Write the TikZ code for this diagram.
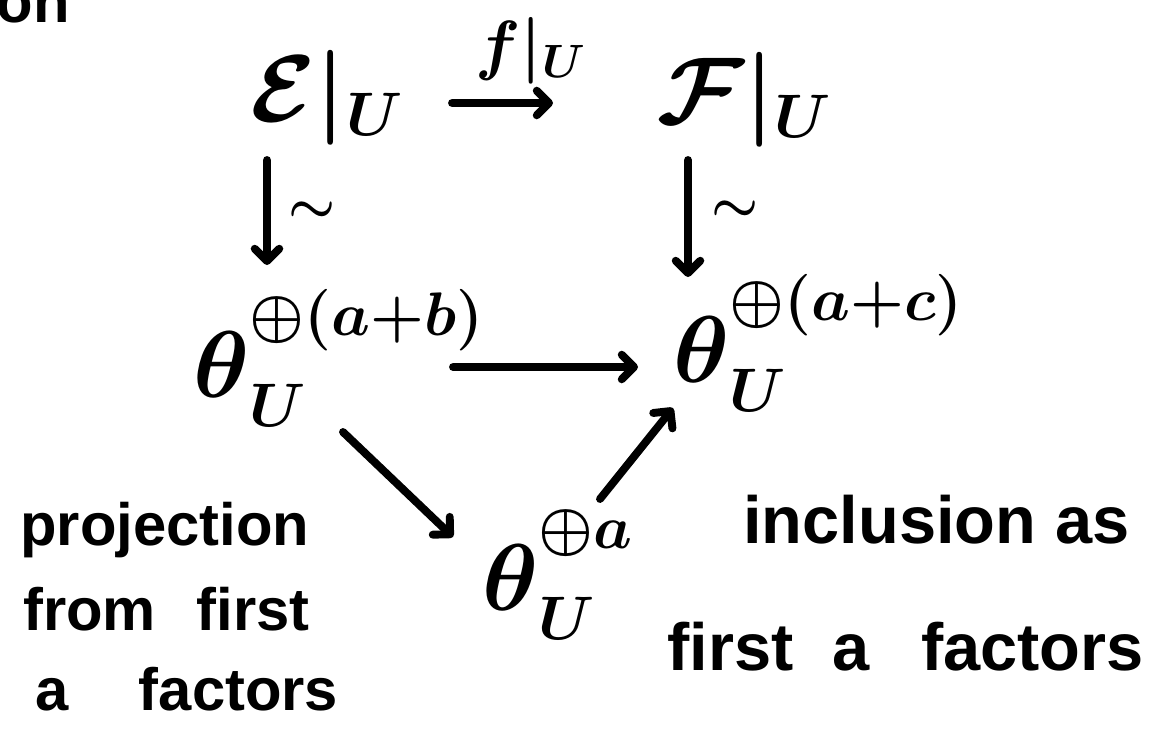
\RequirePackage{fix-cm}
\documentclass[tikz,border=0pt]{standalone}
\usepackage{amsmath}
\usepackage{fontspec}
\usepackage{tikz}
\usetikzlibrary{arrows.meta, positioning}
\newfontfamily\hand{Liberation Sans}
\DeclareMathSizes{54}{54}{35}{27}
\newcommand{\sheafO}{{\theta\rule{0pt}{0.9em}}}
\tikzset{
  obj/.style={inner sep=0pt, anchor=base west, font=\fontsize{54}{60}\selectfont\boldmath},
  lab/.style={inner sep=0pt, font=\fontsize{38}{44}\selectfont\boldmath},
  iso/.style={inner sep=0pt, font=\fontsize{30}{34}\selectfont\boldmath},
  words/.style={inner sep=0pt, anchor=base west, font=\hand\bfseries\fontsize{34}{40}\selectfont},
  bigwords/.style={words, font=\hand\bfseries\fontsize{38}{44}\selectfont},
  arrow/.style={-{Straight Barb[length=7pt, width=14pt, round]}, line width=4.5pt, line cap=round}
}

\begin{document}
\begin{tikzpicture}
\useasboundingbox (0,0) rectangle (23.2,-14.66);

% end of the line above, cut off by the top edge
\node[words, anchor=base east] (prev) at (1.4,-0.44) {on};

% the sheaves
\node[obj] (E)  at (5.0,-2.42)   {$\mathcal{E}|_U$};
\node[obj] (F)  at (13.14,-2.46) {$\mathcal{F}|_U$};
\node[obj] (ab) at (3.86,-7.94)  {$\sheafO_U^{\oplus(a+b)}$};
\node[obj] (ac) at (13.46,-7.64) {$\sheafO_U^{\oplus(a+c)}$};
\node[obj] (a)  at (9.64,-12.2)  {$\sheafO_U^{\oplus a}$};

% maps
\draw[arrow] ([xshift=4.04cm,yshift=0.36cm]E.base west) -- ([xshift=-2.08cm,yshift=0.4cm]F.base west)
  node[lab, midway, above=0.3cm, xshift=0.56cm] (res) {$f|_U$};
\draw[arrow] ([xshift=0.34cm,yshift=-0.78cm]E.base west) -- ([xshift=1.48cm,yshift=2.64cm]ab.base west)
  node[iso, midway, right=0.35cm] (isoE) {$\sim$};
\draw[arrow] ([xshift=0.62cm,yshift=-0.74cm]F.base west) -- ([xshift=0.3cm,yshift=2.1cm]ac.base west)
  node[iso, midway, right=0.4cm, yshift=0.15cm] (isoF) {$\sim$};
\draw[arrow] ([xshift=5.2cm,yshift=0.6cm]ab.base west) -- ([xshift=-0.7cm,yshift=0.3cm]ac.base west);
\draw[arrow] ([xshift=3.0cm,yshift=-0.7cm]ab.base west) -- ([xshift=-0.58cm,yshift=1.46cm]a.base west);
\draw[arrow] ([xshift=2.36cm,yshift=2.22cm]a.base west) -- ([yshift=-0.52cm]ac.base west);

% side notes
\node[words] (pj1) at (0.4,-10.9)  {projection};
\node[words] (pj2) at (0.46,-12.6) {from \hspace{0.4em}first};
\node[words] (pj3) at (0.7,-14.2)  {a \hspace{0.9em}factors};
\node[bigwords] (in1) at (14.86,-10.86) {inclusion as};
\node[bigwords] (in2) at (13.34,-13.4)  {first \hspace{0.3em}a \hspace{0.5em}factors};
\end{tikzpicture}
\end{document}
